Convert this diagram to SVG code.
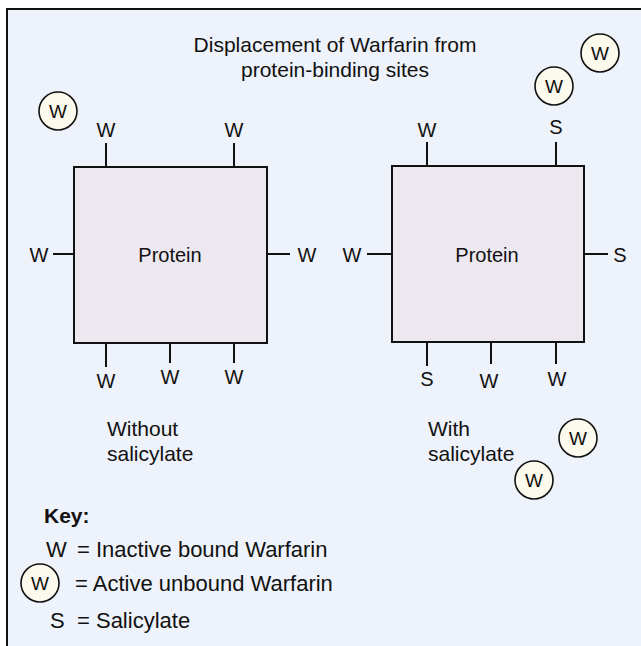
<svg xmlns="http://www.w3.org/2000/svg" width="641" height="646" viewBox="0 0 641 646">
<style>
text{font-family:"Liberation Sans",Arial,sans-serif;fill:#111;}
.t{font-size:21px;text-anchor:middle;}
.l{font-size:20px;text-anchor:middle;}
.c{font-size:19px;text-anchor:middle;}
.cap{font-size:21px;}
.k{font-size:22px;}
.box{fill:#EDE8F0;stroke:#111;stroke-width:2;}
.tick{stroke:#111;stroke-width:2;fill:none;}
.fw{fill:#FCFAEC;stroke:#111;stroke-width:1.6;}
</style>
<rect x="0" y="0" width="641" height="646" fill="#fff"/>
<rect x="7" y="9" width="634" height="637" fill="#EEF2FA"/>
<path d="M7 646 V9 H641" fill="none" stroke="#111" stroke-width="2"/>
<g id="title">
<text class="t" x="335" y="52">Displacement of Warfarin from</text>
<text class="t" x="335" y="77">protein-binding sites</text>
</g>
<g id="free-warfarin">
<g id="fw1"><circle class="fw" cx="600" cy="53" r="19"/><text class="c" x="600" y="60">W</text></g>
<g id="fw2"><circle class="fw" cx="554" cy="86" r="19"/><text class="c" x="554" y="93">W</text></g>
<g id="fw3"><circle class="fw" cx="58" cy="111" r="19"/><text class="c" x="58" y="118">W</text></g>
<g id="fw4"><circle class="fw" cx="578" cy="438" r="19"/><text class="c" x="578" y="445">W</text></g>
<g id="fw5"><circle class="fw" cx="534" cy="480" r="19"/><text class="c" x="534" y="487">W</text></g>
</g>
<g id="protein-left">
<rect class="box" x="74" y="167" width="193" height="176"/>
<text class="l" x="170" y="262">Protein</text>
</g>
<g id="protein-right">
<rect class="box" x="392" y="166" width="192" height="176"/>
<text class="l" x="487" y="262">Protein</text>
</g>
<g id="connectors">
<path class="tick" d="M106 143V167M234 143V167M53 254H74M267 254H290M106 343V367M170 343V363M234 343V363"/>
<path class="tick" d="M427 142V166M556 142V166M367 254H392M584 254H608M427 342V366M491 342V364M556 342V364"/>
</g>
<g id="labels-left">
<text class="l" x="106" y="137">W</text>
<text class="l" x="234" y="137">W</text>
<text class="l" x="39" y="262">W</text>
<text class="l" x="307" y="262">W</text>
<text class="l" x="106" y="388">W</text>
<text class="l" x="170" y="384">W</text>
<text class="l" x="234" y="384">W</text>
</g>
<g id="labels-right">
<text class="l" x="427" y="137">W</text>
<text class="l" x="556" y="134">S</text>
<text class="l" x="352" y="262">W</text>
<text class="l" x="620" y="262">S</text>
<text class="l" x="427" y="386">S</text>
<text class="l" x="489" y="388">W</text>
<text class="l" x="557" y="386">W</text>
</g>
<g id="captions">
<text class="cap" x="107" y="436">Without</text>
<text class="cap" x="107" y="461">salicylate</text>
<text class="cap" x="428" y="436">With</text>
<text class="cap" x="428" y="461">salicylate</text>
</g>
<g id="key">
<text class="cap" x="44" y="523" font-weight="bold">Key:</text>
<text class="k" x="46" y="557">W</text>
<text class="k" x="77" y="557">= Inactive bound Warfarin</text>
<circle class="fw" cx="40" cy="583" r="19"/><text class="c" x="40" y="590">W</text>
<text class="k" x="75" y="591">= Active unbound Warfarin</text>
<text class="k" x="50" y="628">S</text>
<text class="k" x="77" y="628">= Salicylate</text>
</g>
</svg>
